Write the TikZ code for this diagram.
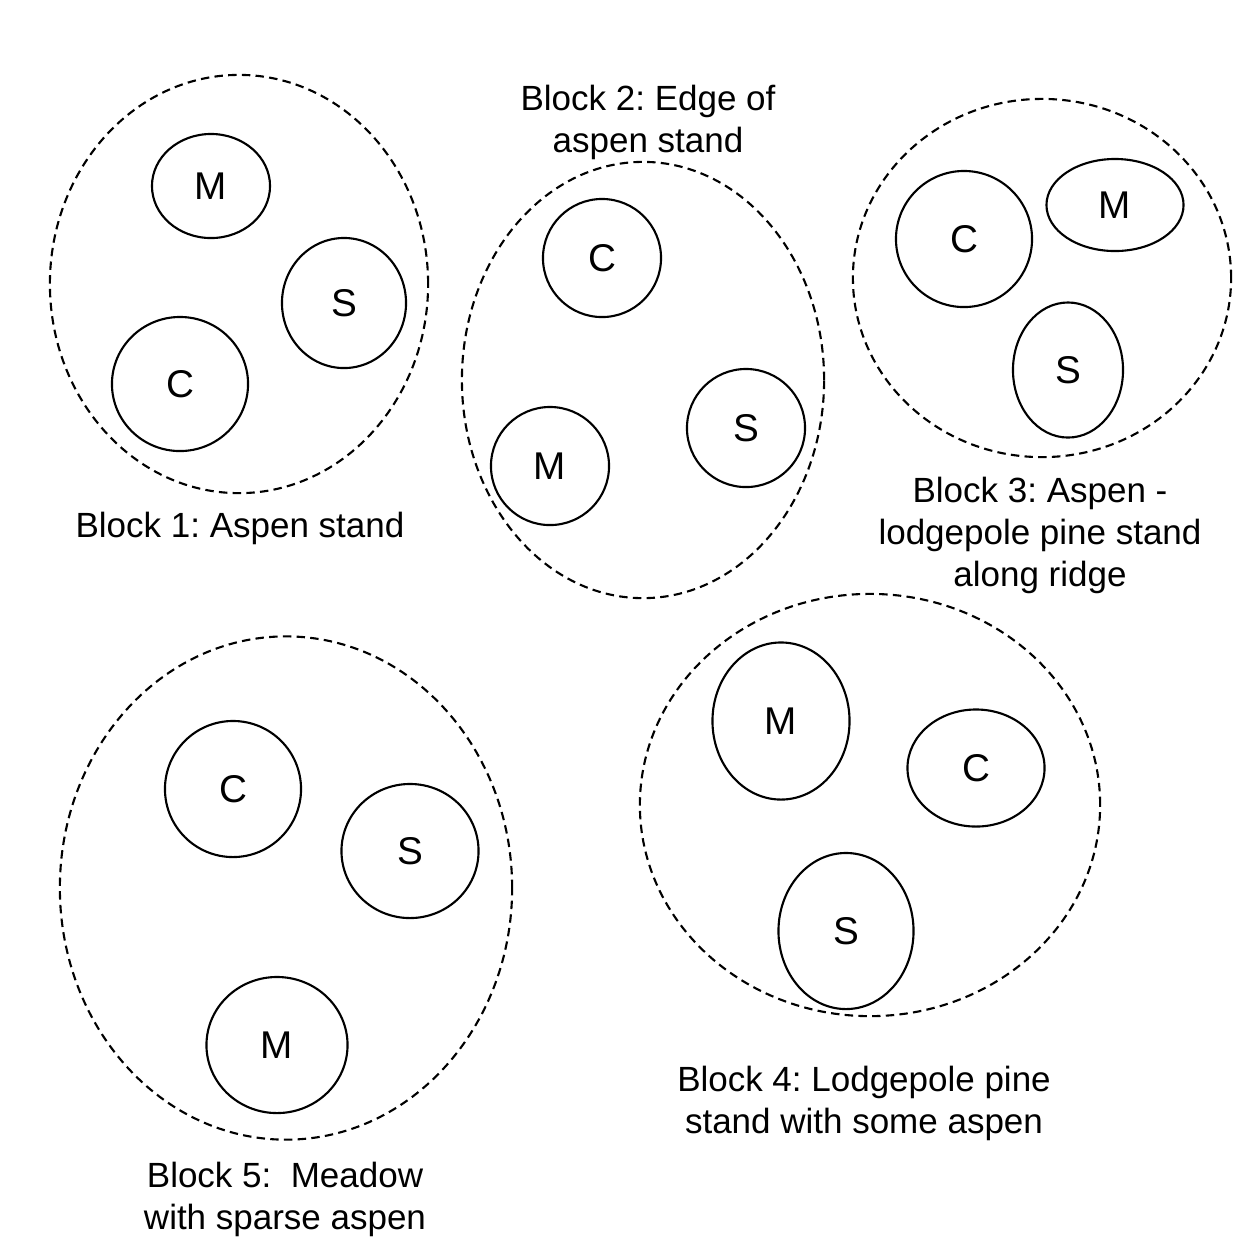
\documentclass[tikz,border=0pt]{standalone}
\usepackage{fontspec}
\setmainfont{Liberation Sans}
\usetikzlibrary{shapes.geometric}
\begin{document}
\frenchspacing
\begin{tikzpicture}[x=0.01cm,y=-0.01cm,
  blockel/.style={draw,ellipse,dash pattern=on 2.4pt off 1.5pt,line width=0.6pt,inner sep=0pt},
  plot/.style={draw,ellipse,line width=0.6pt,inner sep=0pt,font=\fontsize{11}{13}\selectfont},
  lab/.style={align=center,inner sep=0pt,font=\fontsize{9.95}{11.95}\selectfont}]
\useasboundingbox[fill=white] (0,0) rectangle (1249,1247);
% Block 1
\node[blockel,minimum width=3.78cm,minimum height=4.18cm] (b1) at (239,284) {};
\node[plot,minimum width=1.18cm,minimum height=1.04cm] (b1m) at (211,186) {M};
\node[plot,minimum width=1.24cm,minimum height=1.30cm] (b1s) at (344,303) {S};
\node[plot,minimum width=1.36cm,minimum height=1.34cm] (b1c) at (180,384) {C};
\node[lab] (l1) at (240,528) {Block 1: Aspen stand};
% Block 2
\node[blockel,minimum width=3.62cm,minimum height=4.36cm] (b2) at (643,380) {};
\node[plot,minimum width=1.18cm,minimum height=1.18cm] (b2c) at (602,258) {C};
\node[plot,minimum width=1.18cm,minimum height=1.18cm] (b2m) at (550,466) {M};
\node[plot,minimum width=1.18cm,minimum height=1.18cm] (b2s) at (746,428) {S};
\node[lab] (l2) at (648,122) {Block 2: Edge of\\aspen stand};
% Block 3
\node[blockel,minimum width=3.78cm,minimum height=3.58cm] (b3) at (1042,278) {};
\node[plot,minimum width=1.36cm,minimum height=1.36cm] (b3c) at (964,239) {C};
\node[plot,minimum width=1.37cm,minimum height=0.92cm] (b3m) at (1115,205) {M};
\node[plot,minimum width=1.10cm,minimum height=1.35cm] (b3s) at (1068,370) {S};
\node[lab] (l3) at (1040,535) {Block 3: Aspen -\\lodgepole pine stand\\along ridge};
% Block 4
\node[blockel,minimum width=4.60cm,minimum height=4.22cm] (b4) at (870,805) {};
\node[plot,minimum width=1.37cm,minimum height=1.57cm] (b4m) at (781,721) {M};
\node[plot,minimum width=1.37cm,minimum height=1.17cm] (b4c) at (976,768) {C};
\node[plot,minimum width=1.35cm,minimum height=1.56cm] (b4s) at (846,931) {S};
\node[lab] (l4) at (864,1103) {Block 4: Lodgepole pine\\stand with some aspen};
% Block 5
\node[blockel,minimum width=4.52cm,minimum height=5.03cm] (b5) at (286,888) {};
\node[plot,minimum width=1.36cm,minimum height=1.36cm] (b5c) at (233,789) {C};
\node[plot,minimum width=1.37cm,minimum height=1.34cm] (b5s) at (410,851) {S};
\node[plot,minimum width=1.41cm,minimum height=1.36cm] (b5m) at (277,1045) {M};
\node[lab] (l5) at (285,1199) {Block 5:\ \ Meadow\\with sparse aspen};
\end{tikzpicture}
\end{document}
